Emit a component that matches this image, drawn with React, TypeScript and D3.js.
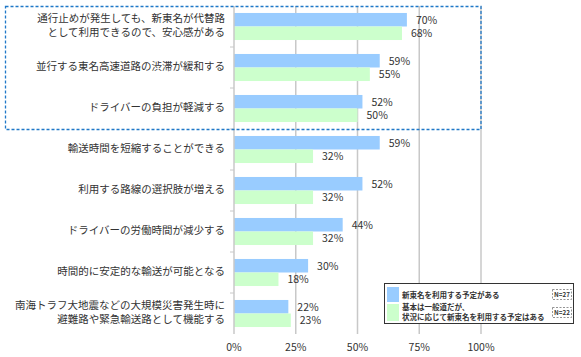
import React from "react";
import * as d3 from "d3";

const categories: string[][] = [
  ["通行止めが発生しても、新東名が代替路", "として利用できるので、安心感がある"],
  ["並行する東名高速道路の渋滞が緩和する"],
  ["ドライバーの負担が軽減する"],
  ["輸送時間を短縮することができる"],
  ["利用する路線の選択肢が増える"],
  ["ドライバーの労働時間が減少する"],
  ["時間的に安定的な輸送が可能となる"],
  ["南海トラフ大地震などの大規模災害発生時に", "避難路や緊急輸送路として機能する"],
];
const seriesA: number[] = [70, 59, 52, 59, 52, 44, 30, 22];
const seriesB: number[] = [68, 55, 50, 32, 32, 32, 18, 23];
const xTicks: number[] = [0, 25, 50, 75, 100];
const legendA = "新東名を利用する予定がある";
const legendB = ["基本は一般道だが、", "状況に応じて新東名を利用する予定はある"];
const nA = "N=27";
const nB = "N=22";

const W = 581;
const H = 357;
const left = 234;
const right = 481;
const top = 6;
const bottom = 334;
const FONT = "'Noto Sans CJK JP', 'Noto Sans', sans-serif";
const BLUE = "#99CCFF";
const GREEN = "#CCFFCC";
const GRID = "#c8c8c8";
const TEXT = "#333333";

export default function App() {
  const x = d3.scaleLinear().domain([0, 100]).range([left, right]);
  const y = d3
    .scaleBand<number>()
    .domain(d3.range(categories.length))
    .range([top, bottom])
    .paddingInner(0)
    .paddingOuter(0);
  const bw = y.bandwidth();
  const barH = bw * 0.33;
  const off = bw * 0.17;

  return (
    <svg width={W} height={H} style={{ position: "absolute", left: 0, top: 0, fontFamily: FONT }}>
      <rect x={0} y={0} width={W} height={H} fill="#fff" />
      {/* gridlines */}
      {xTicks.slice(1).map((t) => (
        <line key={t} x1={x(t)} x2={x(t)} y1={top} y2={bottom} stroke={GRID} strokeWidth={1.5} />
      ))}
      {/* bars */}
      {categories.map((_, i) => {
        const y0 = (y(i) as number) + off;
        return (
          <g key={i}>
            <rect x={x(0)} y={y0} width={x(seriesA[i]) - x(0)} height={barH} fill={BLUE} />
            <rect x={x(0)} y={y0 + barH} width={x(seriesB[i]) - x(0)} height={barH} fill={GREEN} />
            <text x={x(seriesA[i]) + 9} y={y0 + barH / 2 + 4} fontSize={10.5} fill={TEXT}>
              {seriesA[i]}%
            </text>
            <text x={x(seriesB[i]) + 9} y={y0 + barH * 1.5 + 4} fontSize={10.5} fill={TEXT}>
              {seriesB[i]}%
            </text>
          </g>
        );
      })}
      {/* axis */}
      <line x1={left} x2={left} y1={top} y2={bottom} stroke={GRID} strokeWidth={1.5} />
      {d3.range(1, categories.length).map((i) => (
        <line key={i} x1={left - 4} x2={left} y1={y(i) as number} y2={y(i) as number} stroke={GRID} strokeWidth={1} />
      ))}
      {/* category labels */}
      {categories.map((lines, i) => {
        const cy = (y(i) as number) + bw / 2 - 2;
        const lh = 14;
        return (
          <text key={i} textAnchor="end" fontSize={10.5} fill={TEXT}>
            {lines.map((l, j) => (
              <tspan key={j} x={225} y={cy + (j - (lines.length - 1) / 2) * lh + 4}>
                {l}
              </tspan>
            ))}
          </text>
        );
      })}
      {/* x tick labels */}
      {xTicks.map((t) => (
        <text key={t} x={x(t)} y={351} textAnchor="middle" fontSize={10.5} fill={TEXT}>
          {t}%
        </text>
      ))}
      {/* dashed highlight box */}
      <rect
        x={5.5}
        y={(y(0) as number) + 0.5}
        width={x(100) - 5.5}
        height={(y(3) as number) - (y(0) as number)}
        fill="none"
        stroke="#1F78C8"
        strokeWidth={1.3}
        strokeDasharray="3,2"
      />
      {/* legend */}
      <g>
        <rect x={384.5} y={283.5} width={189} height={40} fill="#fff" stroke="#333" strokeWidth={1} />
        <rect x={387} y={287} width={12} height={15} fill={BLUE} />
        <rect x={387} y={304} width={12} height={17} fill={GREEN} />
        <text x={402} y={297.5} fontSize={7.5} fontWeight="bold" fill={TEXT}>
          {legendA}
        </text>
        <text x={402} y={309.5} fontSize={7.5} fontWeight="bold" fill={TEXT}>
          {legendB[0]}
        </text>
        <text x={402} y={320} fontSize={7.5} fontWeight="bold" fill={TEXT}>
          {legendB[1]}
        </text>
        <rect x={552.5} y={289.5} width={19} height={10} fill="none" stroke="#777" strokeWidth={0.8} strokeDasharray="2,1.5" />
        <text x={562} y={297} fontSize={6.3} fontWeight="bold" textAnchor="middle" fill={TEXT}>
          {nA}
        </text>
        <rect x={552.5} y={307.5} width={19} height={10} fill="none" stroke="#777" strokeWidth={0.8} strokeDasharray="2,1.5" />
        <text x={562} y={315} fontSize={6.3} fontWeight="bold" textAnchor="middle" fill={TEXT}>
          {nB}
        </text>
      </g>
    </svg>
  );
}
